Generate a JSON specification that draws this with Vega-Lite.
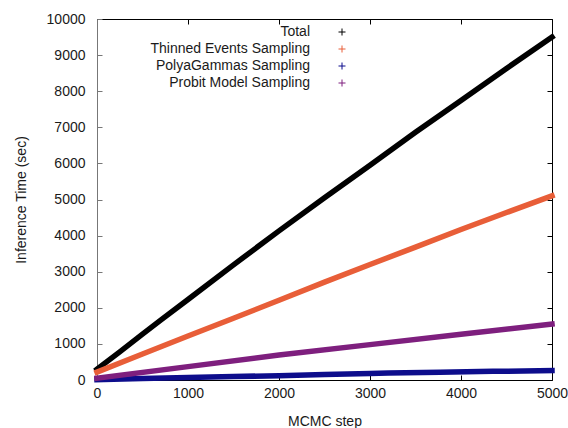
{
  "$schema": "https://vega.github.io/schema/vega-lite/v6.json",
  "width": 455,
  "height": 361,
  "autosize": {"type": "none"},
  "padding": {"left": 97, "top": 19, "right": 16, "bottom": 48},
  "config": {
    "view": {"stroke": null},
    "font": "Liberation Sans",
    "axis": {
      "grid": false,
      "domainColor": "#000000",
      "tickColor": "#000000",
      "tickSize": -5,
      "labelFontSize": 14,
      "labelColor": "#1a1a1a",
      "labelFont": "Liberation Sans",
      "titleFont": "Liberation Sans",
      "titleFontSize": 14,
      "titleFontWeight": "normal",
      "titleColor": "#1a1a1a",
      "labelPadding": 11,
      "labelFlush": false,
      "labelOverlap": false,
      "format": "d"
    }
  },
  "data": {
    "values": [
      {"step": 0, "time": 300, "series": "Total"},
      {"step": 250, "time": 780, "series": "Total"},
      {"step": 500, "time": 1270, "series": "Total"},
      {"step": 700, "time": 1660, "series": "Total"},
      {"step": 1000, "time": 2230, "series": "Total"},
      {"step": 1500, "time": 3190, "series": "Total"},
      {"step": 2000, "time": 4130, "series": "Total"},
      {"step": 2500, "time": 5050, "series": "Total"},
      {"step": 3000, "time": 5950, "series": "Total"},
      {"step": 3500, "time": 6860, "series": "Total"},
      {"step": 4000, "time": 7740, "series": "Total"},
      {"step": 4500, "time": 8630, "series": "Total"},
      {"step": 5000, "time": 9500, "series": "Total"},
      {"step": 0, "time": 220, "series": "Thinned Events Sampling"},
      {"step": 500, "time": 720, "series": "Thinned Events Sampling"},
      {"step": 1000, "time": 1220, "series": "Thinned Events Sampling"},
      {"step": 1500, "time": 1710, "series": "Thinned Events Sampling"},
      {"step": 2000, "time": 2210, "series": "Thinned Events Sampling"},
      {"step": 2500, "time": 2710, "series": "Thinned Events Sampling"},
      {"step": 3000, "time": 3200, "series": "Thinned Events Sampling"},
      {"step": 3500, "time": 3680, "series": "Thinned Events Sampling"},
      {"step": 4000, "time": 4170, "series": "Thinned Events Sampling"},
      {"step": 4500, "time": 4640, "series": "Thinned Events Sampling"},
      {"step": 5000, "time": 5100, "series": "Thinned Events Sampling"},
      {"step": 0, "time": 10, "series": "PolyaGammas Sampling"},
      {"step": 500, "time": 40, "series": "PolyaGammas Sampling"},
      {"step": 1000, "time": 70, "series": "PolyaGammas Sampling"},
      {"step": 1500, "time": 95, "series": "PolyaGammas Sampling"},
      {"step": 2000, "time": 120, "series": "PolyaGammas Sampling"},
      {"step": 2500, "time": 150, "series": "PolyaGammas Sampling"},
      {"step": 3000, "time": 180, "series": "PolyaGammas Sampling"},
      {"step": 3200, "time": 195, "series": "PolyaGammas Sampling"},
      {"step": 3770, "time": 215, "series": "PolyaGammas Sampling"},
      {"step": 4350, "time": 240, "series": "PolyaGammas Sampling"},
      {"step": 5000, "time": 260, "series": "PolyaGammas Sampling"},
      {"step": 0, "time": 50, "series": "Probit Model Sampling"},
      {"step": 1000, "time": 370, "series": "Probit Model Sampling"},
      {"step": 2000, "time": 690, "series": "Probit Model Sampling"},
      {"step": 3000, "time": 980, "series": "Probit Model Sampling"},
      {"step": 4000, "time": 1265, "series": "Probit Model Sampling"},
      {"step": 5000, "time": 1550, "series": "Probit Model Sampling"}
    ]
  },
  "layer": [
    {
      "mark": {"type": "line", "strokeWidth": 5.5, "strokeCap": "square", "clip": false},
      "encoding": {
        "x": {
          "field": "step", "type": "quantitative",
          "scale": {"domain": [0, 5000], "nice": false, "zero": false},
          "axis": {"title": "MCMC step", "values": [0, 1000, 2000, 3000, 4000, 5000], "titlePadding": 14}
        },
        "y": {
          "field": "time", "type": "quantitative",
          "scale": {"domain": [0, 10000], "nice": false},
          "axis": {"title": "Inference Time (sec)", "values": [0, 1000, 2000, 3000, 4000, 5000, 6000, 7000, 8000, 9000, 10000], "labelPadding": 17, "titlePadding": 18, "domainColor": "#777777", "tickColor": "#777777"}
        },
        "color": {
          "field": "series", "type": "nominal",
          "scale": {
            "domain": ["Total", "Thinned Events Sampling", "PolyaGammas Sampling", "Probit Model Sampling"],
            "range": ["#000000", "#e85e38", "#0d0d8c", "#7e1f7e"]
          },
          "legend": {
            "orient": "none",
            "legendX": 238,
            "legendY": 6,
            "title": null,
            "padding": 0,
            "labelAlign": "right",
            "labelOffset": -39,
            "labelFontSize": 14,
            "labelColor": "#1a1a1a",
            "labelFont": "Liberation Sans",
            "labelLimit": 400,
            "rowPadding": 3,
            "symbolType": "M-1,0H1M0,-1V1",
            "symbolSize": 49,
            "symbolStrokeWidth": 1,
            "symbolFillColor": "transparent",
            "encode": {"symbols": {"update": {"strokeWidth": {"value": 1}, "fill": {"value": "transparent"}}}}
          }
        }
      }
    },
    {
      "mark": {"type": "line", "opacity": 0},
      "encoding": {
        "x": {
          "field": "step", "type": "quantitative",
          "axis": {"orient": "top", "labels": false, "title": null, "values": [0, 1000, 2000, 3000, 4000, 5000]}
        },
        "y": {
          "field": "time", "type": "quantitative",
          "axis": {"orient": "right", "labels": false, "title": null, "values": [0, 1000, 2000, 3000, 4000, 5000, 6000, 7000, 8000, 9000, 10000]}
        }
      }
    }
  ],
  "resolve": {"axis": {"x": "independent", "y": "independent"}}
}
